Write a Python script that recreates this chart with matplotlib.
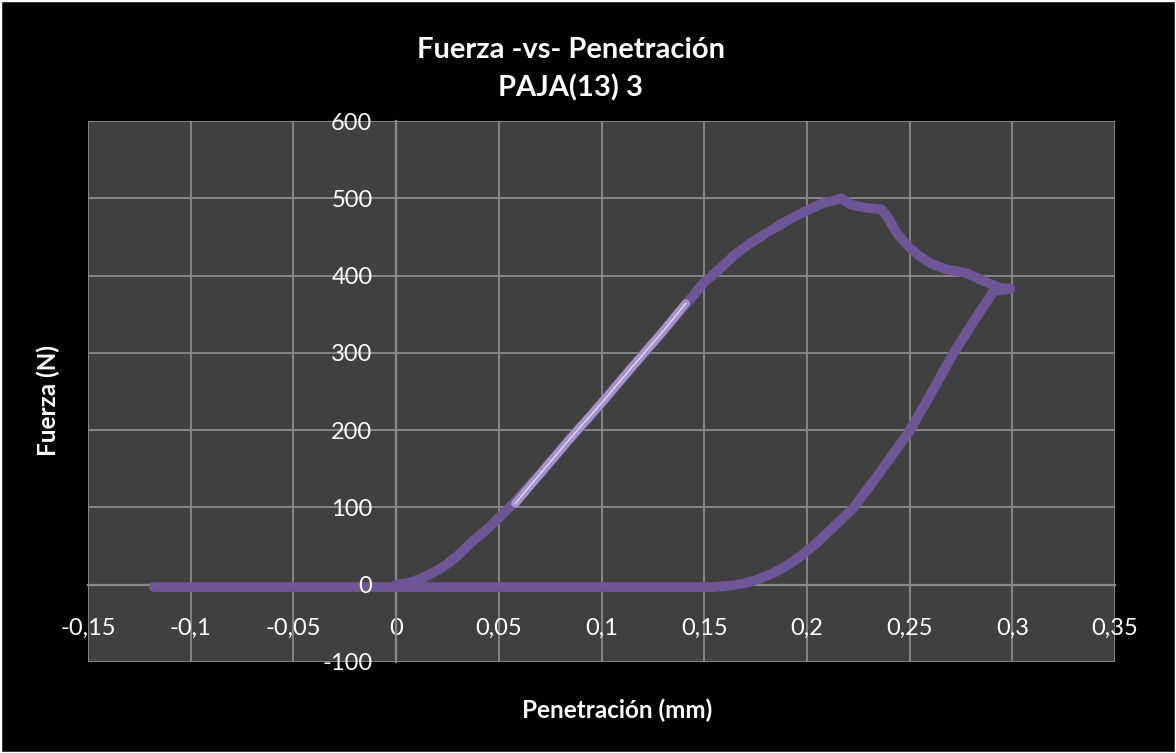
import matplotlib
matplotlib.use("Agg")
import matplotlib.pyplot as plt
from matplotlib.ticker import FixedLocator, FixedFormatter
from matplotlib.patches import Rectangle

# ---- data ----
load_x = [0.000, 0.007, 0.013, 0.019, 0.025, 0.031, 0.036, 0.046, 0.057, 0.070, 0.085, 0.100, 0.115,
          0.130, 0.143, 0.150, 0.158, 0.165, 0.172, 0.179, 0.186, 0.193, 0.200, 0.208, 0.213, 0.217, 0.221,
          0.226, 0.231, 0.236, 0.239, 0.244, 0.250, 0.255, 0.260, 0.268, 0.278, 0.286, 0.294, 0.299]
load_y = [0, 3, 9, 17, 27, 40, 53, 76, 105, 143, 190, 235, 282,
          328, 369, 391, 410, 427, 441, 453, 464, 475, 484, 494, 497, 500, 492,
          489, 487, 486, 477, 454, 436, 425, 416, 408, 403, 393, 384, 383]

unload_x = [0.299, 0.291, 0.281, 0.271, 0.261, 0.250, 0.236, 0.2225, 0.212, 0.203,
            0.197, 0.191, 0.185, 0.179, 0.174, 0.170, 0.163, 0.155, 0.100, 0.050, 0.000, -0.050, -0.118]
unload_y = [383, 380, 340, 298, 250, 199, 147, 99, 72, 50,
            37, 26, 17, 10, 5, 2, -1, -3, -3, -3, -3, -3, -3]

fit_x = [0.058, 0.070, 0.085, 0.100, 0.115, 0.130, 0.141]
fit_y = [105, 143, 190, 235, 282, 328, 364]

x_ticks = [-0.15, -0.1, -0.05, 0, 0.05, 0.1, 0.15, 0.2, 0.25, 0.3, 0.35]
x_tick_labels = ["-0,15", "-0,1", "-0,05", "0", "0,05", "0,1", "0,15", "0,2", "0,25", "0,3", "0,35"]
y_ticks = [-100, 0, 100, 200, 300, 400, 500, 600]
y_tick_labels = ["-100", "0", "100", "200", "300", "400", "500", "600"]

title_line1 = "Fuerza -vs- Penetración"
title_line2 = "PAJA(13) 3"
x_label = "Penetración (mm)"
y_label = "Fuerza (N)"

# ---- style ----
FONT = ["Lato", "DejaVu Sans"]
LINE_COLOR = "#6e5696"
FIT_COLOR = "#a595c8"
GRID_COLOR = "#8a8a8a"
PLOT_BG = "#404040"

fig = plt.figure(figsize=(11.76, 7.53), dpi=100)
fig.patch.set_facecolor("black")
fig.patches.append(Rectangle((0, 0), 1, 1, transform=fig.transFigure,
                             fill=False, edgecolor="white", linewidth=2.5, zorder=10))

ax = fig.add_axes([88 / 1176, 91 / 753, (1115 - 88) / 1176, (662 - 121) / 753])
ax.set_facecolor(PLOT_BG)
ax.set_xlim(-0.15, 0.35)
ax.set_ylim(-100, 600)

ax.xaxis.set_major_locator(FixedLocator(x_ticks))
ax.xaxis.set_major_formatter(FixedFormatter(x_tick_labels))
ax.yaxis.set_major_locator(FixedLocator(y_ticks))
ax.yaxis.set_major_formatter(FixedFormatter(y_tick_labels))

# vertical grid through the x axis; horizontal grid drawn separately so the
# y tick labels can sit above the curve (as in the reference)
ax.grid(True, axis="x", color=GRID_COLOR, linewidth=1.3)
ax.hlines(y_ticks, -0.15, 0.35, color=GRID_COLOR, linewidth=1.3, zorder=0.6)
ax.xaxis.set_zorder(0.5)
ax.yaxis.set_zorder(6)

for s in ["top", "right"]:
    ax.spines[s].set_visible(False)
ax.spines["left"].set_position(("data", 0))
ax.spines["bottom"].set_position(("data", 0))
for s in ["left", "bottom"]:
    ax.spines[s].set_color(GRID_COLOR)
    ax.spines[s].set_linewidth(1.6)
    ax.spines[s].set_zorder(0.7)

ax.tick_params(axis="both", length=0, colors="white", labelsize=17)
ax.tick_params(axis="x", pad=24)
ax.tick_params(axis="y", pad=17)
for lab in ax.get_xticklabels() + ax.get_yticklabels():
    lab.set_family(FONT)

ax.plot(load_x, load_y, color=LINE_COLOR, linewidth=7, solid_capstyle="round",
        solid_joinstyle="round", zorder=3)
ax.plot(unload_x, unload_y, color=LINE_COLOR, linewidth=7, solid_capstyle="round",
        solid_joinstyle="round", zorder=3)
ax.plot(fit_x, fit_y, color=FIT_COLOR, linewidth=6, solid_capstyle="round",
        solid_joinstyle="round", zorder=4)
ax.plot(fit_x, fit_y, color="#ece6f6", linewidth=0.8, zorder=5)

fig.text(571 / 1176, 1 - 50 / 753, title_line1, color="white", fontsize=21,
         fontweight="bold", family=FONT, ha="center", va="center")
fig.text(570 / 1176, 1 - 88 / 753, title_line2, color="white", fontsize=21,
         fontweight="bold", family=FONT, ha="center", va="center")
fig.text(617 / 1176, 1 - 710 / 753, x_label, color="white", fontsize=17.5,
         fontweight="bold", family=FONT, ha="center", va="center")
fig.text(48 / 1176, 1 - 400 / 753, y_label, color="white", fontsize=17.5,
         fontweight="bold", family=FONT, ha="center", va="center", rotation=90)

fig.savefig("out.png", dpi=100, facecolor=fig.get_facecolor())
